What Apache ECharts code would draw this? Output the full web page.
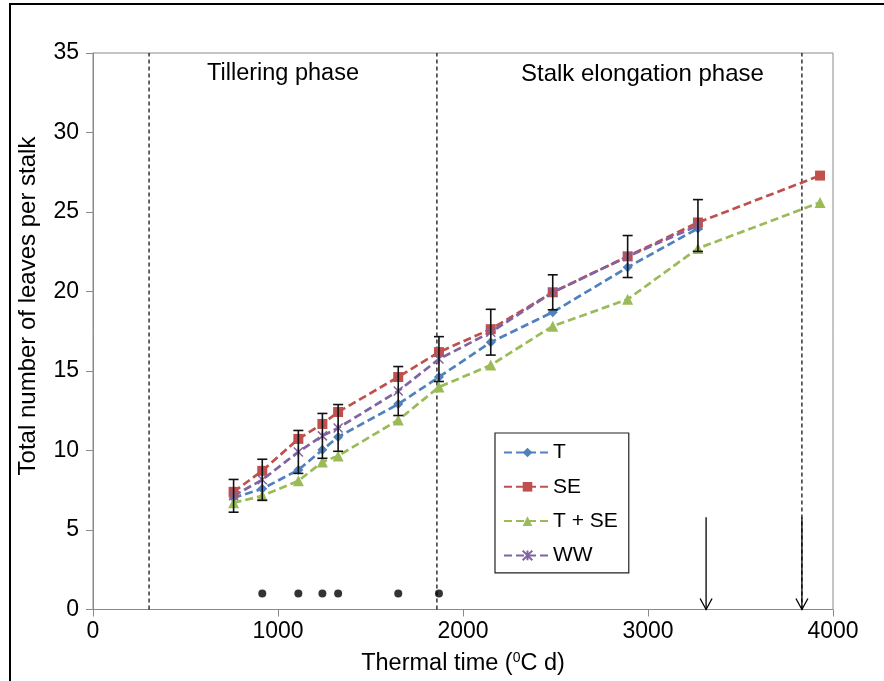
<!DOCTYPE html>
<html><head><meta charset="utf-8">
<script src="https://cdn.jsdelivr.net/npm/echarts@6/dist/echarts.min.js"></script>
<style>html,body{margin:0;padding:0;background:#fff}#c{width:884px;height:681px}</style>
</head><body><div id="c"></div>
<script>
// ---- data ----
const xMain = [760, 915, 1110, 1240, 1325, 1650, 1870, 2150, 2485, 2890, 3270];
const xLate = [760, 915, 1110, 1240, 1325, 1650, 1870, 2150, 2485, 2890, 3270, 3930];
const T   = [7.03, 7.59, 8.78, 10.04, 10.85, 12.92, 14.62, 16.81, 18.70, 21.52, 23.97];
const SE  = [7.40, 8.72, 10.73, 11.67, 12.42, 14.62, 16.19, 17.63, 19.95, 22.21, 24.34, 27.29];
const TSE = [6.71, 7.15, 8.09, 9.28, 9.66, 11.92, 13.99, 15.37, 17.82, 19.51, 22.71, 25.60];
const WW  = [7.15, 8.16, 9.91, 10.92, 11.42, 13.74, 15.75, 17.44, 19.95, 22.20, 24.15];
const WWerr = [1.03, 1.29, 1.35, 1.41, 1.47, 1.54, 1.41, 1.44, 1.10, 1.32, 1.63];
const dotX = [915, 1110, 1240, 1325, 1650, 1870];
const dotY = 1;
const phaseX = [303, 1859, 3832];
const arrowX = [3314, 3832];
const arrowTop = 5.8;
const phaseLabels = ['Tillering phase', 'Stalk elongation phase'];
const yTitle = 'Total number of leaves per stalk';
const xTicks = {min: 0, max: 4000, interval: 1000};
const yTicks = {min: 0, max: 35, interval: 5};

const zip = (xs, ys) => ys.map((v, i) => [xs[i], v]);
const FONT = 'Liberation Sans, Arial, sans-serif';
const axisGray = '#8a8a8a';

const dashed = [8, 4];
function lineSeries(name, xs, ys, color, symbol, size, extra) {
  return Object.assign({
    name, type: 'line', data: zip(xs, ys), symbol, symbolSize: size,
    lineStyle: {color, width: 2.7, type: dashed},
    itemStyle: {color},
    z: 3
  }, extra || {});
}

const chart = echarts.init(document.getElementById('c'), null, {renderer: 'canvas'});
chart.setOption({
  animation: false,
  textStyle: {fontFamily: FONT},
  grid: {left: 93, top: 53, right: 51, bottom: 70, show: true, borderColor: axisGray, borderWidth: 1},
  xAxis: {
    type: 'value', min: xTicks.min, max: xTicks.max, interval: xTicks.interval,
    axisLine: {lineStyle: {color: axisGray, width: 1}},
    axisTick: {show: true, length: 7, inside: false, lineStyle: {color: axisGray}},
    splitLine: {show: false},
    axisLabel: {color: '#000', fontSize: 23, margin: 11, fontFamily: FONT, formatter: v => String(v)},
    name: '{n|Thermal time (}{s|0}{n|C d)}',
    nameLocation: 'middle', nameGap: 42,
    nameTextStyle: {rich: {
      n: {fontSize: 23.5, color: '#000', fontFamily: FONT},
      s: {fontSize: 14, color: '#000', fontFamily: FONT, padding: [0, 0, 11, 0]}
    }}
  },
  yAxis: {
    type: 'value', min: yTicks.min, max: yTicks.max, interval: yTicks.interval,
    axisLine: {show: true, lineStyle: {color: axisGray, width: 1}},
    axisTick: {show: true, length: 7, lineStyle: {color: axisGray}},
    splitLine: {show: false},
    axisLabel: {color: '#000', fontSize: 23, margin: 14, fontFamily: FONT}
  },
  legend: {
    orient: 'vertical', left: 495, top: 433,
    itemWidth: 47, itemHeight: 12, itemGap: 13.3,
    padding: [9, 11, 7, 8],
    borderColor: '#222', borderWidth: 1.2, backgroundColor: '#fff',
    textStyle: {fontSize: 21, color: '#000', fontFamily: FONT, padding: [0, 0, 0, -3]},
    data: ['T', 'SE', 'T + SE', 'WW']
  },
  graphic: [
    {type: 'rect', shape: {x: 10, y: 4, width: 900, height: 700}, style: {fill: 'none', stroke: '#000', lineWidth: 2}, silent: true, z: 100},
    {type: 'text', left: 207, top: 62, style: {text: phaseLabels[0], font: '23.5px ' + FONT, fill: '#000'}},
    {type: 'text', left: 521, top: 62, style: {text: phaseLabels[1], font: '24px ' + FONT, fill: '#000'}},
    {type: 'text', x: 28, y: 306, rotation: Math.PI / 2,
      style: {text: yTitle, font: '24px ' + FONT, fill: '#000', align: 'center', verticalAlign: 'middle'}}
  ],
  series: [
    {
      type: 'custom', name: 'phases', silent: true, z: 1,
      data: phaseX.map(x => [x]),
      renderItem: (params, api) => {
        const p0 = api.coord([api.value(0), yTicks.min]);
        const p1 = api.coord([api.value(0), yTicks.max]);
        return {type: 'line', shape: {x1: p0[0], y1: p0[1], x2: p1[0], y2: p1[1]},
          style: {stroke: '#000', lineWidth: 1.2, lineDash: [4, 3]}};
      }
    },
    lineSeries('T', xMain, T, '#4F81BD', 'diamond', 10),
    lineSeries('SE', xLate, SE, '#C0504D', 'rect', 10),
    lineSeries('T + SE', xLate, TSE, '#9BBB59', 'triangle', 11),
    lineSeries('WW', xMain, WW, '#8064A2', 'path://M0,0L10,10M10,0L0,10M5,0L5,10', 9, {
      itemStyle: {color: '#8064A2', borderColor: '#8064A2', borderWidth: 1.5}
    }),
    {
      type: 'custom', name: 'err', silent: true, z: 6,
      data: xMain.map((x, i) => [x, WW[i] - WWerr[i], WW[i] + WWerr[i]]),
      renderItem: (params, api) => {
        const lo = api.coord([api.value(0), api.value(1)]);
        const hi = api.coord([api.value(0), api.value(2)]);
        const w = 5;
        const st = {stroke: '#111', lineWidth: 1.6};
        return {type: 'group', children: [
          {type: 'line', shape: {x1: lo[0], y1: lo[1], x2: hi[0], y2: hi[1]}, style: st},
          {type: 'line', shape: {x1: lo[0] - w, y1: lo[1], x2: lo[0] + w, y2: lo[1]}, style: st},
          {type: 'line', shape: {x1: hi[0] - w, y1: hi[1], x2: hi[0] + w, y2: hi[1]}, style: st}
        ]};
      }
    },
    {
      type: 'scatter', name: 'sig', data: dotX.map(x => [x, dotY]),
      symbol: 'circle', symbolSize: 8, itemStyle: {color: '#000'}, z: 5, silent: true
    },
    {
      type: 'custom', name: 'arrows', silent: true, z: 7,
      data: arrowX.map(x => [x, arrowTop]),
      renderItem: (params, api) => {
        const t = api.coord([api.value(0), api.value(1)]);
        const b = api.coord([api.value(0), 0]);
        const st = {stroke: '#000', lineWidth: 1.3, fill: 'none'};
        return {type: 'group', children: [
          {type: 'line', shape: {x1: t[0], y1: t[1], x2: b[0], y2: b[1]}, style: st},
          {type: 'polyline', shape: {points: [[b[0] - 6, b[1] - 11], [b[0], b[1]], [b[0] + 6, b[1] - 11]]}, style: st}
        ]};
      }
    }
  ]
});
</script></body></html>
